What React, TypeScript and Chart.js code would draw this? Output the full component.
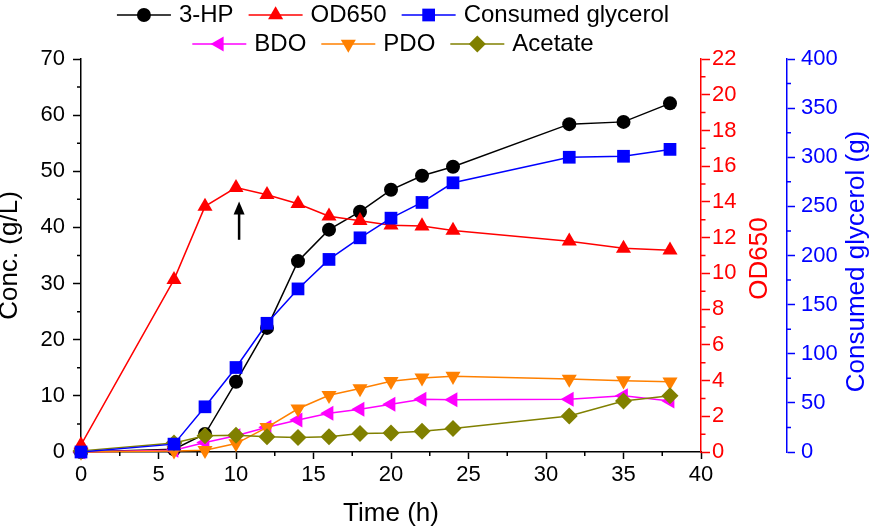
import React, { useEffect, useRef } from 'react';
import { Chart, registerables } from 'chart.js';
import { drawPoint } from 'chart.js/helpers';

Chart.register(...registerables);

const FONT = '"Liberation Sans", Arial, sans-serif';

// ---- data ----
const TIME = [0, 6, 8, 10, 12, 14, 16, 18, 20, 22, 24, 31.5, 35, 38];
const HP3 = [0, 0.5, 3.2, 12.5, 22.1, 34.0, 39.6, 42.8, 46.7, 49.2, 50.8, 58.4, 58.8, 62.1];
const OD650 = [0.4, 9.65, 13.75, 14.8, 14.4, 13.9, 13.2, 12.95, 12.7, 12.65, 12.4, 11.8, 11.4, 11.3];
const GLYCEROL = [0, 8, 46, 86, 131, 166, 196, 218, 238, 254, 274, 300, 301, 308];
const BDO = [0, 0.3, 1.7, 2.9, 4.4, 5.7, 6.9, 7.6, 8.5, 9.4, 9.3, 9.4, 10.0, 9.1];
const PDO = [0, 0.2, 0.3, 1.5, 4.4, 7.7, 10.1, 11.3, 12.6, 13.2, 13.5, 13.0, 12.7, 12.5];
const ACETATE = [0.2, 1.6, 2.9, 3.0, 2.7, 2.6, 2.7, 3.3, 3.4, 3.7, 4.2, 6.4, 9.1, 10.0];

const X_RANGE = [0, 40];
const X_STEP = 5;
const Y_RANGE = [0, 70];
const Y_STEP = 10;
const Y1_RANGE = [0, 22];
const Y1_STEP = 2;
const Y2_RANGE = [0, 400];
const Y2_STEP = 50;

const ARROW_X = 10.2;
const ARROW_FROM = 37.8;
const ARROW_TO = 44.6;

const LABELS = ['3-HP', 'OD650', 'Consumed glycerol', 'BDO', 'PDO', 'Acetate'];
const LEGEND_ROWS = [[0, 1, 2], [3, 4, 5]];

// ---- styles ----
const SERIES = [
  { label: LABELS[0], data: HP3, axis: 'y', color: '#000000', style: 'circle', rotation: 0, radius: 7, order: 5 },
  { label: LABELS[1], data: OD650, axis: 'y1', color: '#FF0000', style: 'triangle', rotation: 0, radius: 8.7, order: 1 },
  { label: LABELS[2], data: GLYCEROL, axis: 'y2', color: '#0000FF', style: 'rect', rotation: 0, radius: 9, order: 0 },
  { label: LABELS[3], data: BDO, axis: 'y', color: '#FF00FF', style: 'triangle', rotation: 270, radius: 8.7, order: 4 },
  { label: LABELS[4], data: PDO, axis: 'y', color: '#FF8000', style: 'triangle', rotation: 180, radius: 8.7, order: 3 },
  { label: LABELS[5], data: ACETATE, axis: 'y', color: '#808000', style: 'rectRot', rotation: 0, radius: 8.5, order: 2 },
];

const decorPlugin = {
  id: 'decor',
  afterDatasetsDraw(chart: any) {
    const { ctx, scales } = chart;
    const xs = scales.x, ys = scales.y;
    // arrow
    const ax = xs.getPixelForValue(ARROW_X);
    const y0 = ys.getPixelForValue(ARROW_FROM);
    const y1 = ys.getPixelForValue(ARROW_TO);
    ctx.save();
    ctx.strokeStyle = '#000';
    ctx.fillStyle = '#000';
    ctx.lineWidth = 2.5;
    ctx.beginPath();
    ctx.moveTo(ax, y0);
    ctx.lineTo(ax, y1 + 10);
    ctx.stroke();
    ctx.beginPath();
    ctx.moveTo(ax, y1);
    ctx.lineTo(ax - 5.5, y1 + 13);
    ctx.lineTo(ax + 5.5, y1 + 13);
    ctx.closePath();
    ctx.fill();
    ctx.restore();
  },
  afterDraw(chart: any) {
    const { ctx, scales, chartArea: ca } = chart;
    ctx.save();
    // minor ticks
    const minor = (scale: any, start: number, step: number, end: number, dir: string, len: number, color: string) => {
      ctx.strokeStyle = color;
      ctx.lineWidth = 1.5;
      ctx.beginPath();
      for (let v = start; v < end; v += step) {
        const p = scale.getPixelForValue(v);
        if (dir === 'down') { ctx.moveTo(p, scale.top); ctx.lineTo(p, scale.top + len); }
        if (dir === 'left') { ctx.moveTo(scale.right, p); ctx.lineTo(scale.right - len, p); }
        if (dir === 'right') { ctx.moveTo(scale.left, p); ctx.lineTo(scale.left + len, p); }
      }
      ctx.stroke();
    };
    minor(scales.x, X_STEP / 2, X_STEP, X_RANGE[1], 'down', 4, '#000');
    minor(scales.y, Y_STEP / 2, Y_STEP, Y_RANGE[1], 'left', 4, '#000');
    minor(scales.y1, Y1_STEP / 2, Y1_STEP, Y1_RANGE[1], 'right', 4.5, '#FF0000');
    minor(scales.y2, Y2_STEP / 2, Y2_STEP, Y2_RANGE[1], 'right', 4, '#0000FF');

    // axis titles
    ctx.font = `26px ${FONT}`;
    ctx.textAlign = 'center';
    ctx.textBaseline = 'middle';
    const vtitle = (text: string, x: number, y: number, color: string) => {
      ctx.save();
      ctx.translate(x, y);
      ctx.rotate(-Math.PI / 2);
      ctx.fillStyle = color;
      ctx.fillText(text, 0, 0);
      ctx.restore();
    };
    const cy = (ca.top + ca.bottom) / 2;
    vtitle('Conc. (g/L)', scales.y.left + 10, cy, '#000');
    vtitle('OD650', scales.y1.right - 27, cy + 3, '#FF0000');
    vtitle('Consumed glycerol (g)', scales.y2.right - 16, cy + 6, '#0000FF');
    ctx.fillStyle = '#000';
    ctx.fillText('Time (h)', (ca.left + ca.right) / 2, scales.x.bottom - 18.5);

    // legend
    ctx.font = `24px ${FONT}`;
    ctx.textAlign = 'left';
    const LINE_LEN = 54, TEXT_GAP = 8, ITEM_GAP = 15;
    const rowY = [15, 44];
    const cx = (ca.left + ca.right) / 2 + 2;
    LEGEND_ROWS.forEach((row, ri) => {
      const widths = row.map((i) => LINE_LEN + TEXT_GAP + ctx.measureText(SERIES[i].label).width);
      const total = widths.reduce((a, b) => a + b, 0) + ITEM_GAP * (row.length - 1);
      let x = cx - total / 2;
      const y = rowY[ri];
      row.forEach((idx, k) => {
        const s = SERIES[idx];
        ctx.strokeStyle = s.color;
        ctx.lineWidth = 1.5;
        ctx.beginPath();
        ctx.moveTo(x, y);
        ctx.lineTo(x + LINE_LEN, y);
        ctx.stroke();
        ctx.fillStyle = s.color;
        drawPoint(ctx, { pointStyle: s.style, rotation: s.rotation, radius: s.radius, borderWidth: 0 } as any, x + LINE_LEN / 2, y);
        ctx.fillStyle = '#000';
        ctx.fillText(s.label, x + LINE_LEN + TEXT_GAP, y);
        x += widths[k] + ITEM_GAP;
      });
    });
    ctx.restore();
  },
};

export default function App() {
  const ref = useRef<HTMLCanvasElement | null>(null);
  useEffect(() => {
    if (!ref.current) return;
    const tickFont = { family: FONT, size: 22 };
    const chart = new Chart(ref.current, {
      type: 'line',
      data: {
        datasets: SERIES.map((s) => ({
          label: s.label,
          data: TIME.map((t, i) => ({ x: t, y: s.data[i] })),
          yAxisID: s.axis,
          borderColor: s.color,
          backgroundColor: s.color,
          borderWidth: 1.5,
          pointStyle: s.style as any,
          rotation: s.rotation,
          pointRotation: s.rotation,
          pointRadius: s.radius,
          pointBorderWidth: 0,
          pointBackgroundColor: s.color,
          tension: 0,
          clip: false as any,
          order: s.order,
        })),
      },
      options: {
        animation: false,
        responsive: false,
        devicePixelRatio: 1,
        layout: { padding: { top: 59, left: 0, right: 0, bottom: 0 } },
        plugins: { legend: { display: false }, tooltip: { enabled: false } },
        scales: {
          x: {
            type: 'linear',
            position: 'bottom',
            min: X_RANGE[0],
            max: X_RANGE[1],
            ticks: { stepSize: X_STEP, color: '#000', font: tickFont, padding: 3, maxRotation: 0 },
            grid: { drawOnChartArea: false, drawTicks: true, tickLength: 7, tickColor: '#000', tickWidth: 1.5 },
            border: { color: '#000', width: 1.5 },
            afterFit: (s: any) => { s.height = 80; },
          },
          y: {
            type: 'linear',
            position: 'left',
            min: Y_RANGE[0],
            max: Y_RANGE[1],
            ticks: { stepSize: Y_STEP, color: '#000', font: tickFont, padding: 8 },
            grid: { drawOnChartArea: false, drawTicks: true, tickLength: 8, tickColor: '#000', tickWidth: 1.5 },
            border: { color: '#000', width: 1.5 },
            afterFit: (s: any) => { s.width = 81; },
          },
          y1: {
            type: 'linear',
            position: 'right',
            weight: 0,
            min: Y1_RANGE[0],
            max: Y1_RANGE[1],
            ticks: { stepSize: Y1_STEP, color: '#FF0000', font: tickFont, padding: 2 },
            grid: { drawOnChartArea: false, drawTicks: true, tickLength: 9, tickColor: '#FF0000', tickWidth: 1.5 },
            border: { color: '#FF0000', width: 1.5 },
            afterFit: (s: any) => { s.width = 86; },
          },
          y2: {
            type: 'linear',
            position: 'right',
            weight: 1,
            min: Y2_RANGE[0],
            max: Y2_RANGE[1],
            ticks: { stepSize: Y2_STEP, color: '#0000FF', font: tickFont, padding: 6 },
            grid: { drawOnChartArea: false, drawTicks: true, tickLength: 8, tickColor: '#0000FF', tickWidth: 1.5 },
            border: { color: '#0000FF', width: 1.5 },
            afterFit: (s: any) => { s.width = 86; },
          },
        },
      } as any,
      plugins: [decorPlugin],
    });
    return () => chart.destroy();
  }, []);
  return (
    <div style={{ position: 'fixed', left: 0, top: 0, width: 873, height: 532, background: '#fff' }}>
      <canvas ref={ref} width={873} height={532} style={{ display: 'block', width: 873, height: 532 }} />
    </div>
  );
}
